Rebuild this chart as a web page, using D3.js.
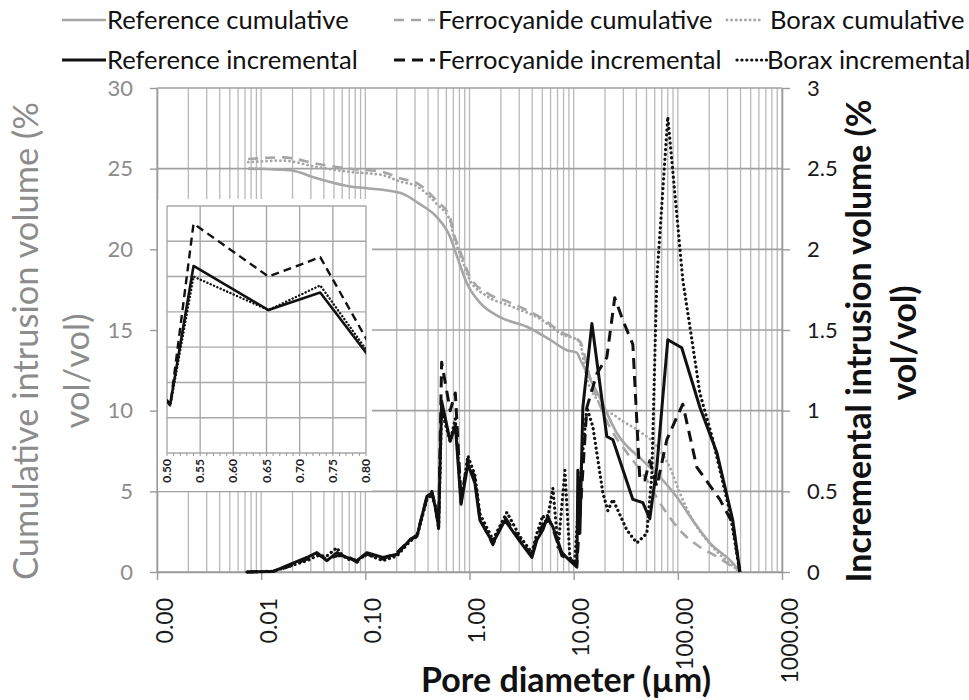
<!DOCTYPE html>
<html><head><meta charset="utf-8">
<script src="https://cdn.jsdelivr.net/npm/d3@7"></script>
<style>body{margin:0;background:#fff}svg{display:block}text{font-family:Lato,'Noto Sans',sans-serif}</style>
</head><body><svg id="c" width="969" height="700"></svg>
<script>
// ---------- data ----------
const xTickValues = [0.001, 0.01, 0.1, 1, 10, 100, 1000];
const xTickLabels = ["0.00", "0.01", "0.10", "1.00", "10.00", "100.00", "1000.00"];
const leftTicks = [0, 5, 10, 15, 20, 25, 30];
const rightTicks = [0, 0.5, 1, 1.5, 2, 2.5, 3];
const rightTickLabels = ["0", "0.5", "1", "1.5", "2", "2.5", "3"];
const insetTicks = [0.50, 0.55, 0.60, 0.65, 0.70, 0.75, 0.80];
const insetTickLabels = ["0.50", "0.55", "0.60", "0.65", "0.70", "0.75", "0.80"];
const insetYGrid = [0, 0.2, 0.4, 0.6, 0.8, 1.0, 1.2, 1.4];

const seriesNames = ["Reference cumulative", "Ferrocyanide cumulative", "Borax cumulative",
                     "Reference incremental", "Ferrocyanide incremental", "Borax incremental"];

// cumulative intrusion volume (% vol/vol) vs pore diameter (µm)
const refCumulative = [[0.0075,25.0],[0.0189,24.9],[0.0343,24.4],[0.0711,23.9],[0.1,23.8],[0.215,23.5],[0.334,22.8],[0.486,22.0],[0.649,20.8],[0.774,19.4],[0.944,17.9],[1.259,16.7],[1.959,15.8],[3.557,15.2],[5.91,14.4],[8.61,13.75],[10.74,13.6],[11.5,13.2],[17.84,10.8],[26.0,8.6],[46.1,6.9],[67.1,5.9],[97.8,4.65],[139.3,3.2],[202.9,1.8],[337,0.55],[394,0]];
const ferroCumulative = [[0.0075,25.6],[0.0162,25.7],[0.0343,25.3],[0.0711,25.0],[0.147,24.8],[0.215,24.4],[0.313,24.1],[0.486,23.0],[0.649,22.0],[0.693,21.2],[0.845,19.6],[1.009,18.3],[1.469,17.3],[2.443,16.7],[4.74,15.8],[7.88,14.8],[11.47,14.3],[14.3,12.1],[22.2,9.0],[32.4,7.4],[46.1,6.1],[71.8,4.0],[111.6,2.4],[162.6,1.55],[236.8,0.95],[394,0]];
const boraxCumulative = [[0.0075,25.4],[0.0162,25.5],[0.0343,25.1],[0.0711,24.8],[0.147,24.6],[0.215,24.2],[0.313,23.9],[0.486,22.8],[0.649,21.8],[0.693,21.0],[0.845,19.4],[1.009,18.1],[1.469,17.1],[2.443,16.5],[4.74,15.7],[7.88,14.7],[10.74,14.4],[11.47,14.2],[13.39,12.0],[16.7,10.7],[26.0,9.6],[43.2,8.7],[62.8,7.8],[83.7,6.5],[104.5,4.9],[139.3,3.2],[216.8,1.55],[394,0]];

// incremental intrusion volume (% vol/vol) vs pore diameter (µm)
const refIncremental = [[0.0073,0],[0.013,0.003],[0.0177,0.04],[0.0275,0.09],[0.0343,0.12],[0.0428,0.07],[0.0534,0.12],[0.0666,0.09],[0.083,0.07],[0.1035,0.12],[0.1475,0.09],[0.201,0.11],[0.268,0.2],[0.313,0.22],[0.39,0.47],[0.435,0.49],[0.47,0.40],[0.505,0.28],[0.54,1.06],[0.653,0.81],[0.731,0.91],[0.83,0.42],[0.966,0.67],[1.127,0.55],[1.259,0.32],[1.678,0.18],[2.188,0.32],[3.048,0.19],[3.97,0.09],[4.44,0.2],[5.06,0.26],[5.6,0.34],[6.31,0.28],[7.71,0.12],[9.2,0.07],[10.74,0.03],[10.97,0.63],[11.47,0.24],[12.25,1.02],[14.96,1.54],[20.8,0.84],[23.8,0.82],[37.0,0.45],[46.1,0.43],[53.8,0.33],[62.8,0.65],[80.1,1.44],[109,1.39],[163,1.02],[237,0.74],[337,0.32],[394,0]];
const ferroIncremental = [[0.0073,0],[0.013,0.005],[0.0177,0.03],[0.0275,0.08],[0.0343,0.11],[0.0428,0.08],[0.0534,0.10],[0.0666,0.1],[0.083,0.06],[0.1035,0.11],[0.1475,0.08],[0.201,0.12],[0.268,0.2],[0.313,0.23],[0.39,0.46],[0.435,0.5],[0.47,0.41],[0.505,0.27],[0.54,1.30],[0.653,1.0],[0.731,1.11],[0.83,0.45],[0.966,0.7],[1.127,0.58],[1.259,0.33],[1.678,0.17],[2.188,0.34],[3.048,0.2],[3.97,0.1],[4.44,0.22],[5.6,0.35],[6.31,0.27],[7.71,0.1],[9.2,0.08],[10.74,0.05],[13.39,1.02],[16.7,1.23],[20.8,1.33],[24.8,1.70],[29.7,1.56],[37.0,1.41],[43.2,0.57],[48.2,0.57],[53.8,0.69],[62.8,0.53],[78.4,0.82],[97.8,0.96],[111.6,1.04],[152,0.65],[253,0.45],[337,0.3],[394,0]];
const boraxIncremental = [[0.0073,0],[0.013,0.005],[0.0177,0.03],[0.0275,0.07],[0.0343,0.1],[0.0428,0.1],[0.0534,0.15],[0.0571,0.12],[0.0666,0.08],[0.083,0.07],[0.1035,0.11],[0.1475,0.07],[0.201,0.1],[0.268,0.19],[0.313,0.22],[0.39,0.45],[0.435,0.48],[0.47,0.41],[0.505,0.27],[0.54,1.0],[0.653,0.81],[0.731,0.95],[0.83,0.43],[0.966,0.72],[1.127,0.6],[1.259,0.36],[1.678,0.2],[2.286,0.37],[3.048,0.22],[3.97,0.12],[4.44,0.24],[5.06,0.35],[5.53,0.3],[6.31,0.52],[7.1,0.15],[8.24,0.63],[9.2,0.09],[10.2,0.05],[11.47,0.55],[13.39,1.02],[15.29,0.9],[19.06,0.49],[21.3,0.38],[23.8,0.45],[32.4,0.26],[40.4,0.18],[50.4,0.24],[56.3,0.6],[62.8,1.81],[80.1,2.82],[111.6,1.81],[139.3,1.4],[162.6,1.11],[216.8,0.82],[316,0.37],[394,0]];

// ---------- styles ----------
const GREY = "#a6a6a6";
const styles = [
  {color: GREY, dash: null, width: 2.6, cap: "butt"},
  {color: GREY, dash: "10,7", width: 2.6, cap: "butt"},
  {color: GREY, dash: "0.1,4.5", width: 2.8, cap: "round"},
  {color: "#111", dash: null, width: 3, cap: "butt"},
  {color: "#111", dash: "11,7", width: 3, cap: "butt"},
  {color: "#111", dash: "0.1,4.8", width: 3.2, cap: "round"}
];

const svg = d3.select("#c");
const X0 = 157, X1 = 782, Y0 = 572, Y1 = 88;
const x = d3.scaleLog().domain([0.001, 1000]).range([X0, X1]);
const yL = d3.scaleLinear().domain([0, 30]).range([Y0, Y1]);
const yR = d3.scaleLinear().domain([0, 3]).range([Y0, Y1]);

// grid
const minor = [];
for (let k = -3; k <= 2; k++) for (let m = 1; m <= 9; m++) minor.push(m * Math.pow(10, k));
minor.push(1000);
const g = svg.append("g");
g.selectAll("line.v").data(minor).join("line")
  .attr("x1", d => x(d)).attr("x2", d => x(d)).attr("y1", Y1).attr("y2", Y0)
  .attr("stroke", "#b8b8b8").attr("stroke-width", 1.3);
g.selectAll("line.h").data(leftTicks).join("line")
  .attr("x1", X0).attr("x2", X1).attr("y1", d => yL(d)).attr("y2", d => yL(d))
  .attr("stroke", "#a0a0a0").attr("stroke-width", 1.6);

// axes
const axL = svg.append("g").attr("transform", `translate(${X0},0)`)
  .call(d3.axisLeft(yL).tickValues(leftTicks).tickSize(7).tickSizeOuter(0).tickPadding(17));
axL.selectAll("text").attr("fill", "#8c8c8c").attr("font-size", 22);
const axR = svg.append("g").attr("transform", `translate(${X1},0)`)
  .call(d3.axisRight(yR).tickValues(rightTicks).tickFormat((d, i) => rightTickLabels[i]).tickSize(8).tickSizeOuter(0).tickPadding(17));
axR.selectAll("text").attr("fill", "#1a1a1a").attr("font-size", 22);
const axB = svg.append("g").attr("transform", `translate(0,${Y0})`)
  .call(d3.axisBottom(x).tickValues(xTickValues).tickFormat((d, i) => xTickLabels[i]).tickSize(8).tickSizeOuter(0));
axB.selectAll("text").attr("transform", "rotate(-90)").attr("text-anchor", "end")
  .attr("x", -26).attr("y", 7).attr("dy", "0.35em").attr("fill", "#1a1a1a").attr("font-size", 23);
[axL, axR, axB].forEach(a => {
  a.selectAll("path.domain").attr("stroke", "#9a9a9a").attr("stroke-width", 1.6);
  a.selectAll(".tick line").attr("stroke", "#9a9a9a").attr("stroke-width", 1.4);
  a.selectAll("text").attr("font-family", "Lato, 'Noto Sans', sans-serif");
});

// lines
const lineC = d3.line().x(d => x(d[0])).y(d => yL(d[1])).curve(d3.curveMonotoneX);
const lineI = d3.line().x(d => x(d[0])).y(d => yR(d[1]));
const allSeries = [refCumulative, ferroCumulative, boraxCumulative, refIncremental, ferroIncremental, boraxIncremental];
allSeries.forEach((s, i) => {
  const st = styles[i];
  svg.append("path").datum(s).attr("d", i < 3 ? lineC : lineI)
    .attr("fill", "none").attr("stroke", st.color).attr("stroke-width", st.width)
    .attr("stroke-dasharray", st.dash).attr("stroke-linecap", st.cap).attr("stroke-linejoin", "round");
});

// inset
const xi = d3.scaleLinear().domain([0.5, 0.8]).range([167, 366]);
const yi = d3.scaleLinear().domain([0, 1.4]).range([453, 206]);
const ins = svg.append("g");
ins.append("rect").attr("x", 158).attr("y", 199).attr("width", 214).attr("height", 292).attr("fill", "#fff");
ins.selectAll("line.iv").data(insetTicks).join("line")
  .attr("x1", d => xi(d)).attr("x2", d => xi(d)).attr("y1", yi(1.4)).attr("y2", yi(0))
  .attr("stroke", "#a8a8a8").attr("stroke-width", 1.4);
ins.selectAll("line.ih").data(insetYGrid).join("line")
  .attr("x1", xi(0.5)).attr("x2", xi(0.8)).attr("y1", d => yi(d)).attr("y2", d => yi(d))
  .attr("stroke", "#a8a8a8").attr("stroke-width", 1.4);
ins.selectAll("line.mt").data(d3.range(0.5, 0.8001, 0.01)).join("line")
  .attr("x1", d => xi(d)).attr("x2", d => xi(d)).attr("y1", yi(0)).attr("y2", yi(0) + 3)
  .attr("stroke", "#999").attr("stroke-width", 1);
ins.selectAll("text").data(insetTicks).join("text")
  .attr("transform", d => `translate(${xi(d) + 4},${yi(0) + 6}) rotate(-90)`)
  .attr("text-anchor", "end").attr("dy", "0.0em").attr("font-size", 12).attr("font-weight", 700)
  .attr("fill", "#222").text((d, i) => insetTickLabels[i]);
svg.append("clipPath").attr("id", "ic").append("rect")
  .attr("x", xi(0.5)).attr("y", yi(1.4)).attr("width", xi(0.8) - xi(0.5)).attr("height", yi(0) - yi(1.4));
const lineInset = d3.line().x(d => xi(d[0])).y(d => yi(d[1]));
[refIncremental, ferroIncremental, boraxIncremental].forEach((s, j) => {
  const st = styles[j + 3];
  ins.append("path").datum(s.filter(d => d[0] >= 0.45 && d[0] <= 0.97)).attr("d", lineInset)
    .attr("clip-path", "url(#ic)")
    .attr("fill", "none").attr("stroke", st.color).attr("stroke-width", j === 0 ? 2.6 : 2.4)
    .attr("stroke-dasharray", j === 1 ? "8,5" : (j === 2 ? "0.1,3.5" : null))
    .attr("stroke-linecap", st.cap).attr("stroke-linejoin", "round");
});

// helper to fit text to measured widths in the reference
function fit(sel, target) {
  const w = sel.node().getComputedTextLength();
  sel.attr("font-size", parseFloat(sel.attr("font-size")) * target / w);
}

// axis titles
const tL1 = svg.append("text").attr("transform", "translate(26,341) rotate(-90)")
  .attr("text-anchor", "middle").attr("dy", "0.35em").attr("font-size", 29).attr("fill", "#8c8c8c")
  .text("Cumulative intrusion volume (%");
fit(tL1, 478);
svg.append("text").attr("transform", "translate(77,371) rotate(-90)")
  .attr("text-anchor", "middle").attr("dy", "0.35em").attr("font-size", tL1.attr("font-size")).attr("fill", "#8c8c8c")
  .text("vol/vol)");
const tR1 = svg.append("text").attr("transform", "translate(859,341) rotate(-90)")
  .attr("text-anchor", "middle").attr("dy", "0.35em").attr("font-size", 29).attr("font-weight", 700).attr("fill", "#111")
  .text("Incremental intrusion volume (%");
fit(tR1, 483);
svg.append("text").attr("transform", "translate(904,343) rotate(-90)")
  .attr("text-anchor", "middle").attr("dy", "0.35em").attr("font-size", tR1.attr("font-size")).attr("font-weight", 700).attr("fill", "#111")
  .text("vol/vol)");
const tX = svg.append("text").attr("x", 566).attr("y", 692).attr("text-anchor", "middle")
  .attr("font-size", 28).attr("font-weight", 700).attr("fill", "#111").text("Pore diameter (µm)");
fit(tX, 290);

// legend
const legendPos = [
  {sx: [62, 106], tx: 107, cy: 20, tw: 241},
  {sx: [394, 435], tx: 438, cy: 20, tw: 270},
  {sx: [727, 763], tx: 770, cy: 20, tw: 187},
  {sx: [62, 106], tx: 107, cy: 60, tw: 251},
  {sx: [394, 435], tx: 438, cy: 60, tw: 301},
  {sx: [737, 767], tx: 767, cy: 60, tw: 199}
];
const leg = svg.append("g");
const texts = [];
seriesNames.forEach((name, i) => {
  const p = legendPos[i], st = styles[i];
  leg.append("line").attr("x1", p.sx[0]).attr("x2", p.sx[1]).attr("y1", p.cy).attr("y2", p.cy)
    .attr("stroke", st.color).attr("stroke-width", st.width)
    .attr("stroke-dasharray", st.dash).attr("stroke-linecap", st.cap);
  texts.push(leg.append("text").attr("x", p.tx).attr("y", p.cy).attr("dy", "0.35em")
    .attr("font-size", 24).attr("fill", "#111").text(name));
});
let sumM = 0, sumT = 0;
texts.forEach((t, i) => { sumM += t.node().getComputedTextLength(); sumT += legendPos[i].tw; });
texts.forEach(t => t.attr("font-size", 24 * sumT / sumM));
</script></body></html>
